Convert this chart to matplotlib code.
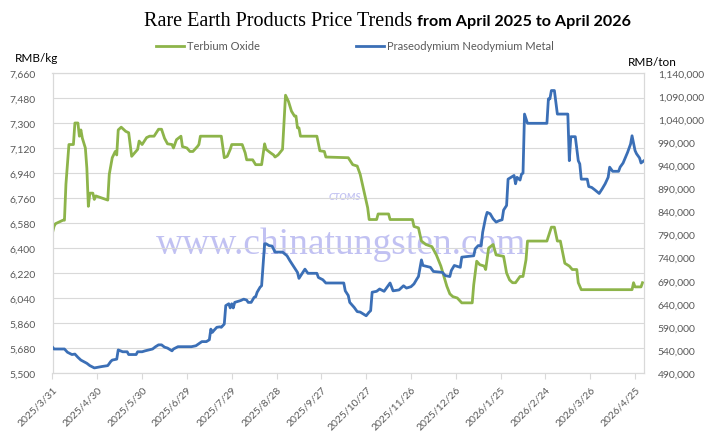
import matplotlib
matplotlib.use('Agg')
import matplotlib.pyplot as plt
import numpy as np
import pandas as pd

plt.rcParams['font.family'] = ['Lato', 'DejaVu Sans']

# Startdatum, alle Tage als Abstand dazu
start = pd.Timestamp('2025-03-31')

# Terbium Oxide, RMB/kg (linke Achse)
tb_day = [0, 1, 2, 7, 8, 9, 11, 14, 15, 17, 18, 19, 20, 22, 23, 24, 25, 27, 28, 29,
          33, 37, 38, 40, 42, 43, 44, 46, 49, 51, 53, 55, 57, 58, 60, 63, 65, 68, 71, 73,
          75, 77, 80, 81, 83, 86, 87, 90, 92, 94, 97, 98, 99, 113, 115, 117, 119, 120, 127, 129,
          130, 134, 136, 140, 142, 143, 146, 148, 149, 151, 154, 156, 158, 160, 162, 163, 164, 165, 166, 177,
          179, 182, 183, 198, 201, 204, 206, 209, 211, 212, 217, 218, 225, 226, 241, 242, 245, 247, 250, 254,
          257, 260, 263, 264, 266, 268, 271, 274, 281, 282, 284, 286, 289, 290, 292, 295, 297, 302, 304, 306,
          308, 310, 313, 315, 317, 318, 331, 334, 336, 338, 340, 343, 346, 348, 351, 352, 354, 388, 389, 390,
          394, 395]
tb_val = [6510, 6555, 6575, 6600, 6600, 6860, 7145, 7145, 7300, 7300, 7205, 7250, 7190, 7120, 6975, 6700, 6795, 6795, 6750, 6775,
          6760, 6745, 6930, 7050, 7095, 7070, 7250, 7270, 7240, 7230, 7060, 7085, 7110, 7170, 7145, 7195, 7205, 7205, 7255, 7255,
          7190, 7150, 7145, 7120, 7180, 7205, 7130, 7120, 7095, 7095, 7130, 7145, 7205, 7205, 7050, 7060, 7110, 7145, 7145, 7085,
          7035, 7035, 7000, 7000, 7150, 7110, 7085, 7070, 7055, 7070, 7110, 7500, 7455, 7385, 7350, 7350, 7265, 7265, 7205, 7205,
          7100, 7095, 7055, 7050, 7000, 6990, 6930, 6785, 6690, 6605, 6605, 6645, 6645, 6605, 6605, 6555, 6545, 6450, 6425, 6410,
          6350, 6270, 6160, 6125, 6070, 6050, 6040, 6005, 6005, 6135, 6305, 6280, 6270, 6245, 6400, 6425, 6350, 6340, 6220, 6170,
          6150, 6150, 6195, 6195, 6315, 6450, 6450, 6550, 6550, 6450, 6450, 6290, 6270, 6245, 6245, 6150, 6100, 6100, 6150, 6120,
          6120, 6150]

# Praseodymium Neodymium Metal, RMB/ton (rechte Achse), Werte in Tausend
prnd_day = [0, 1, 8, 10, 13, 15, 17, 19, 23, 25, 28, 33, 37, 39, 40, 43, 44, 47, 50, 51,
            56, 57, 60, 62, 67, 69, 71, 73, 75, 77, 80, 81, 84, 93, 96, 100, 103, 105, 106, 107,
            108, 110, 112, 113, 115, 116, 118, 119, 120, 121, 122, 126, 128, 130, 131, 133, 135, 136, 137, 139,
            140, 142, 143, 145, 147, 149, 154, 157, 159, 161, 164, 165, 167, 169, 171, 177, 178, 181, 183, 195,
            196, 198, 199, 202, 204, 206, 208, 210, 212, 213, 214, 217, 219, 222, 224, 226, 228, 232, 235, 237,
            240, 242, 244, 245, 247, 248, 253, 255, 261, 263, 266, 267, 269, 273, 274, 282, 283, 285, 287, 288,
            290, 291, 293, 295, 297, 299, 301, 302, 304, 305, 307, 309, 310, 311, 313, 314, 315, 316, 318, 331,
            332, 333, 334, 336, 338, 345, 346, 347, 350, 352, 353, 354, 358, 359, 361, 363, 366, 368, 370, 372,
            373, 375, 379, 380, 382, 385, 387, 388, 390, 391, 393, 394, 396]
prnd_val = [546, 542, 542, 535, 530, 531, 524, 518, 511, 506, 501, 504, 506, 515, 518, 520, 540, 536, 536, 530,
            530, 536, 536, 538, 542, 547, 551, 551, 546, 544, 538, 542, 547, 547, 549, 558, 558, 562, 585, 578,
            582, 589, 590, 589, 596, 636, 640, 631, 640, 631, 643, 647, 650, 648, 643, 643, 654, 655, 665, 676,
            679, 770, 770, 766, 765, 752, 752, 744, 733, 723, 708, 695, 705, 715, 706, 706, 697, 692, 685, 685,
            668, 658, 643, 632, 623, 622, 618, 614, 622, 625, 665, 667, 672, 667, 676, 685, 668, 670, 679, 674,
            677, 683, 694, 699, 735, 723, 719, 710, 708, 701, 699, 712, 723, 719, 741, 744, 759, 766, 766, 795,
            827, 838, 835, 824, 817, 820, 822, 843, 853, 910, 914, 918, 900, 914, 908, 921, 923, 1051, 1031, 1031,
            1084, 1084, 1102, 1102, 1051, 1051, 950, 1002, 1002, 950, 943, 910, 910, 894, 892, 887, 879, 889, 900, 914,
            936, 927, 927, 936, 945, 968, 986, 1004, 972, 965, 956, 945, 950]

tb_dates = start + pd.to_timedelta(tb_day, unit='D')
prnd_dates = start + pd.to_timedelta(prnd_day, unit='D')
prnd_rmb = np.array(prnd_val) * 1000

left_ticks = np.arange(5500, 7661, 180)
right_ticks = np.arange(490000, 1140001, 50000)
tick_dates = [start + pd.Timedelta(days=30 * k) for k in range(14)]
tick_labels = [f'{d.year}/{d.month}/{d.day}' for d in tick_dates]

grau = '#595959'
linie = '#d9d9d9'
gruen = '#8db44a'
blau = '#3b6fb6'

fig = plt.figure(figsize=(7.1, 4.35), dpi=100)
ax = fig.add_axes([52.5 / 710, 1 - 374 / 435, (644 - 52.5) / 710, 300 / 435])
ax.set_facecolor('none')
ax2 = ax.twinx()

# Wasserzeichen
ax.text(0.48, 0.437, 'www.chinatungsten.com', transform=fig.transFigure, ha='center', va='center',
        fontsize=27, family='Liberation Serif', color='#8585e6', alpha=0.5, zorder=0.5)
ax.text(0.486, 0.545, 'CTOMS', transform=fig.transFigure, ha='center', va='center',
        fontsize=7, style='italic', weight='bold', color='#8c8ce6', alpha=0.5, zorder=0.5)

l1, = ax.plot(tb_dates, tb_val, color=gruen, lw=2, label='Terbium Oxide', zorder=3)
l2, = ax2.plot(prnd_dates, prnd_rmb, color=blau, lw=2, label='Praseodymium Neodymium Metal', zorder=3)

ax.set_ylim(5500, 7660)
ax.set_yticks(left_ticks)
ax.set_yticklabels([f'{v:,}' for v in left_ticks])
ax2.set_ylim(490000, 1140000)
ax2.set_yticks(right_ticks)
ax2.set_yticklabels([f'{v:,}' for v in right_ticks])
ax.set_xlim(start, start + pd.Timedelta(days=396))
ax.set_xticks(tick_dates)
ax.set_xticklabels(tick_labels, rotation=45, ha='right', rotation_mode='anchor')

ax.grid(axis='y', color=linie, lw=0.8)
ax.set_axisbelow(True)
for a in (ax, ax2):
    for s in a.spines.values():
        s.set_color(linie)
        s.set_linewidth(0.8)
ax.tick_params(axis='y', length=0, pad=12, labelsize=7.5, labelcolor=grau)
ax2.tick_params(axis='y', length=0, pad=10, labelsize=7.5, labelcolor=grau)
ax.tick_params(axis='x', length=4, color=linie, pad=4, labelsize=7.5, labelcolor=grau)

# Titel in zwei Teilen
fig.text(412 / 710, 1 - 22 / 435, 'Rare Earth Products Price Trends', ha='right', va='center',
         fontsize=14.5, family='Liberation Serif', color='black')
fig.text(417 / 710, 1 - 22 / 435, 'from April 2025 to April 2026', ha='left', va='center',
         fontsize=11.6, weight='bold', color='black')

fig.text(15 / 710, 1 - 58 / 435, 'RMB/kg', ha='left', va='center', fontsize=8.5, color='black')
fig.text(628 / 710, 1 - 62 / 435, 'RMB/ton', ha='left', va='center', fontsize=8.5, color='black')

fig.legend([l1, l2], ['Terbium Oxide', 'Praseodymium Neodymium Metal'], loc='center left',
           bbox_to_anchor=(156 / 710, 1 - 47 / 435), ncol=2, frameon=False, fontsize=8,
           handlelength=2.5, handletextpad=0.25, columnspacing=8.7, borderpad=0, borderaxespad=0,
           labelcolor=grau)

fig.savefig('out.png', dpi=100)
